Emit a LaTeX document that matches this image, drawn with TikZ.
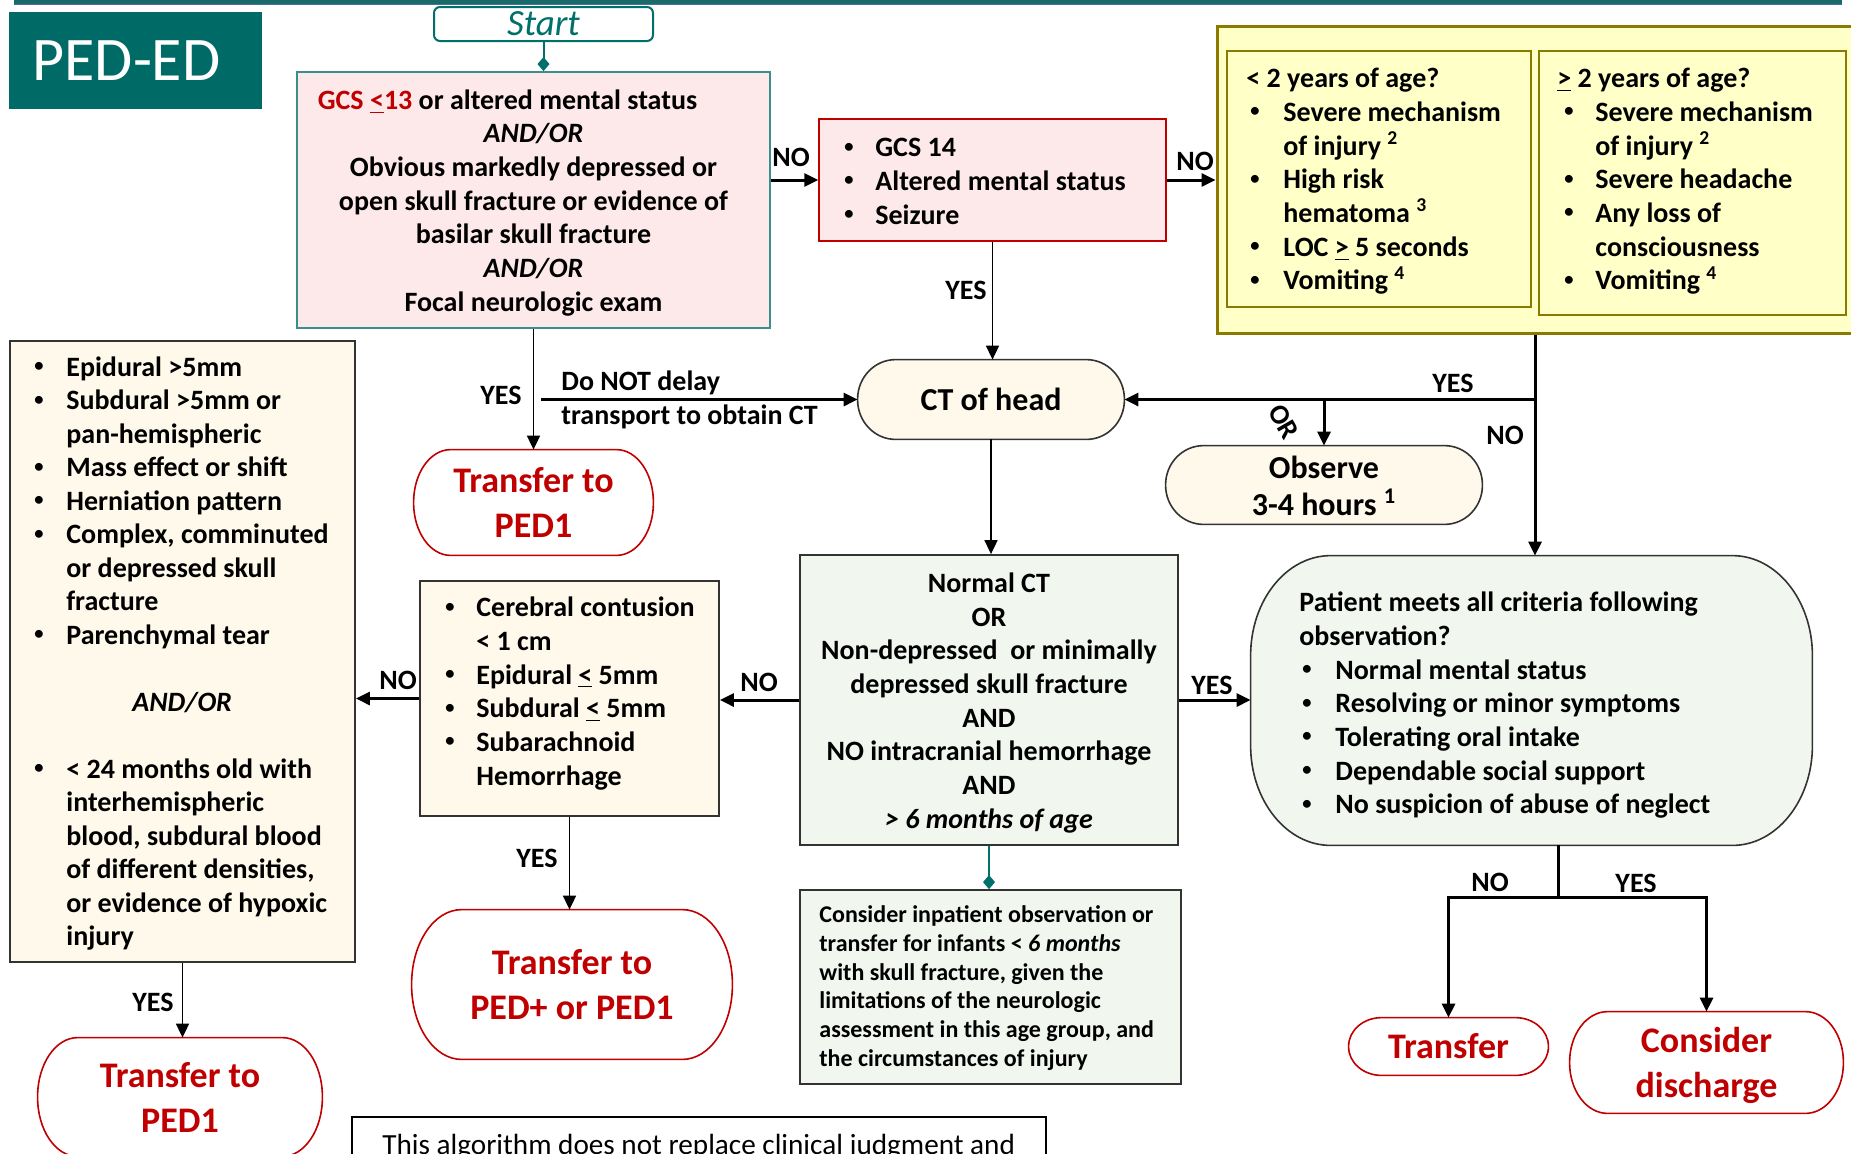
\documentclass[tikz,border=0pt]{standalone}
\usepackage{fontspec}
\usepackage{graphicx}
\setmainfont{Carlito}
\usetikzlibrary{arrows.meta,calc}
\pgfdeclarelayer{bg}
\pgfsetlayers{bg,main}
\definecolor{tealA}{HTML}{006B66}
\definecolor{tealB}{HTML}{00706B}
\definecolor{gcsB}{HTML}{3A8F8C}
\definecolor{pinkF}{HTML}{FDE9E9}
\definecolor{redB}{HTML}{C00000}
\definecolor{txtRed}{HTML}{C00000}
\definecolor{yelF}{HTML}{FFFFC8}
\definecolor{yelB}{HTML}{8C7A00}
\definecolor{creamF}{HTML}{FEF9EA}
\definecolor{greenF}{HTML}{F1F6EE}
\definecolor{darkB}{HTML}{333333}
\definecolor{barA}{HTML}{1B6A6A}
\definecolor{barB}{HTML}{4A6EA8}
\newcommand\bodyfont{\bfseries\fontsize{14}{16.85}\selectfont}
\newcommand\sbul{\raisebox{2.3pt}{\scalebox{0.66}{\textbullet}}}
\newcommand\BL[3]{\hspace*{#1}\makebox[#2][l]{\sbul}#3}
\newcommand\CL[2]{\hspace*{#1}#2}
\newcommand\supn[1]{\smash{\textsuperscript{#1}}}
\newcommand\tst{\rule{0pt}{\dimexpr0.7\baselineskip+3.5pt\relax}}
\newcommand\ovalbox[4]{%
  \path[#1] ($(#2.north west)+(#3,0pt)$) -- ($(#2.north east)+(-#3,0pt)$)
    arc[start angle=90,end angle=0,x radius=#3,y radius=#4]
    -- ($(#2.south east)+(0pt,#4)$)
    arc[start angle=0,end angle=-90,x radius=#3,y radius=#4]
    -- ($(#2.south west)+(#3,0pt)$)
    arc[start angle=270,end angle=180,x radius=#3,y radius=#4]
    -- ($(#2.north west)+(0pt,-#4)$)
    arc[start angle=180,end angle=90,x radius=#3,y radius=#4] -- cycle;}
\tikzset{
  box/.style={rectangle, inner sep=0pt, line width=0.9pt},
  gcsbox/.style={box, fill=pinkF, draw=gcsB, align=center, font=\bodyfont},
  pinkbox/.style={box, fill=pinkF, draw=redB, line width=0.7pt},
  ybox/.style={box, fill=yelF, draw=yelB, line width=1pt},
  creambox/.style={box, fill=creamF, draw=darkB},
  greenbox/.style={box, fill=greenF, draw=darkB, align=center, font=\bodyfont},
  ghost/.style={rectangle, inner sep=0pt, align=center},
  ovalcream/.style={fill=creamF, draw=darkB, line width=0.8pt},
  ovalgreen/.style={fill=greenF, draw=darkB, line width=0.8pt},
  ovalred/.style={fill=white, draw=redB, line width=0.8pt},
  redtitle/.style={ghost, text=txtRed, font=\bfseries\fontsize{18}{22.5}\selectfont},
  txt/.style={inner sep=0pt, align=left, anchor=north west, font=\bodyfont},
  lbl/.style={inner sep=0pt, anchor=base, font=\bodyfont},
  arr/.style={-{Triangle[length=7pt,width=6.5pt]}, line width=0.8pt},
  tarr/.style={-{Triangle[length=7pt,width=6.5pt]}, line width=1.5pt},
  tline/.style={line width=1.5pt},
  dline/.style={draw=tealB, line width=1pt, -{Diamond[length=7pt,width=6pt]}}
}
\begin{document}
\begin{tikzpicture}[x=0.5pt,y=-0.5pt]
\useasboundingbox (0,0) rectangle (1851,1153);
\clip (0,0) rectangle (1851,1153);
% top bar
\fill[barA] (14,0) rectangle (1842,3.5);
\fill[barB] (14,3.5) rectangle (1842,5);

% PED-ED
\node[box, fill=tealA, text=white, minimum width=126.5pt, minimum height=48.5pt,
      font=\fontsize{31}{37}\selectfont] (peded) at (135.5,60.5) {\hspace*{-9pt}PED-ED};
% Start
\node[box, draw=tealB, line width=1pt, rounded corners=3pt, fill=white, text=tealB,
      minimum width=109.5pt, minimum height=17pt,
      font=\itshape\fontsize{18.5}{20}\selectfont] (start) at (543.5,24) {Start};

% GCS box
\node[gcsbox, minimum width=236.5pt, minimum height=128pt] (gcs) at (533.5,200)
 {\tst{\color{txtRed}GCS \underline{<}13} or altered mental status\hspace*{26pt}\\
  \textit{AND/OR}\\
  Obvious markedly depressed or\\
  open skull fracture or evidence of\\
  basilar skull fracture\\
  \textit{AND/OR}\\
  Focal neurologic exam\strut};

% GCS 14 box
\node[pinkbox, minimum width=173.5pt, minimum height=61pt] (gcs14) at (992.5,180) {};
\node[txt] (gcs14t) at (844,132.6)
 {\strut\BL{0pt}{15.5pt}{GCS 14}\\
  \BL{0pt}{15.5pt}{Altered mental status}\\
  \BL{0pt}{15.5pt}{Seizure}};

% yellow group
\node[ybox, line width=1.5pt, minimum width=321.5pt, minimum height=153.5pt] (yellow) at (1538.5,179.5) {};
\node[ybox, minimum width=152pt, minimum height=128pt] (yl) at (1379,179) {};
\node[ybox, minimum width=153.5pt, minimum height=132pt] (yr) at (1692.5,183) {};
\node[txt] (ylt) at (1246,63.6)
 {\strut < 2 years of age?\\
  \BL{2pt}{16.5pt}{Severe mechanism}\\
  \CL{18.5pt}{of injury \supn{2}}\\
  \BL{2pt}{16.5pt}{High risk}\\
  \CL{18.5pt}{hematoma \supn{3}}\\
  \BL{2pt}{16.5pt}{LOC \underline{>} 5 seconds}\\
  \BL{2pt}{16.5pt}{Vomiting \supn{4}}};
\node[txt] (yrt) at (1557,63.6)
 {\strut\underline{>} 2 years of age?\\
  \BL{3.5pt}{15.5pt}{Severe mechanism}\\
  \CL{19pt}{of injury \supn{2}}\\
  \BL{3.5pt}{15.5pt}{Severe headache}\\
  \BL{3.5pt}{15.5pt}{Any loss of}\\
  \CL{19pt}{consciousness}\\
  \BL{3.5pt}{15.5pt}{Vomiting \supn{4}}};

% CT of head
\node[ghost, minimum width=133pt, minimum height=39.5pt,
      font=\bfseries\fontsize{16}{18.5}\selectfont] (ct) at (991,399.5) {CT of head};
% Observe
\node[ghost, minimum width=158pt, minimum height=39pt] (obs) at (1324,485) {};
\node[inner sep=0pt, anchor=north, align=center,
      font=\bfseries\fontsize{16}{18.6}\selectfont] (obst) at (1324,452)
 {\strut Observe\\3-4 hours \supn{1}};

% Transfer to PED1 (middle)
\node[redtitle, minimum width=119.5pt, minimum height=52.5pt] (ped1m) at (533.5,502.5)
 {\tst Transfer to\\PED1\strut};

% Normal CT
\node[greenbox, minimum width=189pt, minimum height=145pt] (normal) at (989,700)
 {\tst Normal CT\\
  OR\\
  Non-depressed~ or minimally\\
  depressed skull fracture\\
  AND\\
  NO intracranial hemorrhage\\
  AND\\
  \textit{> 6 months of age}\strut};

% Patient box
\node[ghost, minimum width=280.5pt, minimum height=144.5pt] (patient) at (1531.5,700.5) {};
\node[txt] (patientt) at (1299,587.6)
 {\strut Patient meets all criteria following\\
  observation?\\
  \BL{1.5pt}{16.5pt}{Normal mental status}\\
  \BL{1.5pt}{16.5pt}{Resolving or minor symptoms}\\
  \BL{1.5pt}{16.5pt}{Tolerating oral intake}\\
  \BL{1.5pt}{16.5pt}{Dependable social support}\\
  \BL{1.5pt}{16.5pt}{No suspicion of abuse of neglect}};

% middle box
\node[creambox, minimum width=149.5pt, minimum height=117.5pt] (middle) at (569.5,698.5) {};
\node[txt] (middlet) at (445,592.6)
 {\strut\BL{0pt}{15.5pt}{Cerebral contusion}\\
  \CL{15.5pt}{< 1 cm}\\
  \BL{0pt}{15.5pt}{Epidural \underline{<} 5mm}\\
  \BL{0pt}{15.5pt}{Subdural \underline{<} 5mm}\\
  \BL{0pt}{15.5pt}{Subarachnoid}\\
  \CL{15.5pt}{Hemorrhage}};

% left box
\node[creambox, minimum width=172.5pt, minimum height=310.5pt] (left) at (182.5,651.5) {};
\node[txt, font=\bfseries\fontsize{14}{16.75}\selectfont] (leftt) at (34,352.6)
 {\strut\BL{0pt}{16pt}{Epidural >5mm}\\
  \BL{0pt}{16pt}{Subdural >5mm or}\\
  \CL{16pt}{pan-hemispheric}\\
  \BL{0pt}{16pt}{Mass effect or shift}\\
  \BL{0pt}{16pt}{Herniation pattern}\\
  \BL{0pt}{16pt}{Complex, comminuted}\\
  \CL{16pt}{or depressed skull}\\
  \CL{16pt}{fracture}\\
  \BL{0pt}{16pt}{Parenchymal tear}\\
  \mbox{}\\
  \CL{49pt}{\textit{AND/OR}}\\
  \mbox{}\\
  \BL{0pt}{16pt}{< 24 months old with}\\
  \CL{16pt}{interhemispheric}\\
  \CL{16pt}{blood, subdural blood}\\
  \CL{16pt}{of different densities,}\\
  \CL{16pt}{or evidence of hypoxic}\\
  \CL{16pt}{injury}};

% consider inpatient
\node[creambox, fill=greenF, minimum width=190.5pt, minimum height=97pt] (consider) at (990.5,987) {};
\node[txt, font=\bfseries\fontsize{12}{14.4}\selectfont] (considert) at (819,902)
 {\strut Consider inpatient observation or\\
  transfer for infants < \textit{6 months}\\
  with skull fracture, given the\\
  limitations of the neurologic\\
  assessment in this age group, and\\
  the circumstances of injury};

% red terminators
\node[redtitle, minimum width=160pt, minimum height=74.5pt] (pedplus) at (572,984.5)
 {\tst Transfer to\\PED+ or PED1\strut};
\node[redtitle, minimum width=142pt, minimum height=59pt] (ped1b) at (180,1097)
 {\tst Transfer to\\PED1\strut};
\node[redtitle, minimum width=99.5pt, minimum height=28.5pt] (transfer) at (1448.5,1046.5)
 {Transfer};
\node[redtitle, minimum width=136.5pt, minimum height=50.5pt] (discharge) at (1706.5,1062.5)
 {\tst Consider\\discharge\strut};

% disclaimer
\node[box, draw=black, line width=0.8pt, fill=white, minimum width=347pt, minimum height=26.5pt] (disc) at (699,1143.5) {};
\node[inner sep=0pt, anchor=base west, font=\fontsize{14.6}{17}\selectfont] (disct) at (382,1154)
 {This algorithm does not replace clinical judgment and};

% oval backgrounds
\begin{pgfonlayer}{bg}
\ovalbox{ovalcream}{ct}{19pt}{19.75pt}
\ovalbox{ovalcream}{obs}{19pt}{19.5pt}
\ovalbox{ovalgreen}{patient}{40pt}{50pt}
\ovalbox{ovalred}{ped1m}{18.5pt}{26.25pt}
\ovalbox{ovalred}{pedplus}{25pt}{37.25pt}
\ovalbox{ovalred}{ped1b}{20pt}{29.5pt}
\ovalbox{ovalred}{transfer}{16.5pt}{14.25pt}
\ovalbox{ovalred}{discharge}{19pt}{25.25pt}
\end{pgfonlayer}

% connectors
\draw[dline] (start.south) -- (start.south |- gcs.north);
\draw[tarr] (gcs.east |- gcs14.west) -- (gcs14.west);
\node[lbl] (lno1) at (791,166) {NO};
\draw[tarr] (gcs14.east) -- (gcs14.east -| yellow.west);
\node[lbl] (lno2) at (1195,170) {NO};
\draw[arr] (gcs14.south) -- (gcs14.south |- ct.north);
\node[lbl] (lyes1) at (966,299) {YES};
\draw[arr] (gcs.south) -- (ped1m.north);
\node[lbl] (lyes2) at (501,404) {YES};
\coordinate (dl) at (541,399.5);
\draw[tarr] (dl) -- (ct.west);
\node[lbl, anchor=base west] (dnd1) at (561,390) {Do NOT delay};
\node[lbl, anchor=base west] (dnd2) at (561,424) {transport to obtain CT};
\coordinate (yb) at (1535,399.5);
\draw[tline] (yb |- yellow.south) -- (yb);
\draw[tarr] (yb) -- (ct.east);
\draw[tarr] (yb) -- (yb |- patient.north);
\draw[tarr] (obs.north |- yb) -- (obs.north);
\node[lbl] (lyes3) at (1453,392) {YES};
\node[lbl] (lno3) at (1505,444) {NO};
\node[inner sep=0pt, rotate=-60, font=\bodyfont] (lor) at (1284,422) {OR};
\draw[arr] (ct.south) -- (ct.south |- normal.north);
\draw[tarr] (normal.west) -- (normal.west -| middle.east);
\node[lbl] (lno4) at (759,691) {NO};
\draw[tarr] (middle.west) -- (middle.west -| left.east);
\node[lbl] (lno5) at (398,689) {NO};
\draw[tarr] (normal.east) -- (normal.east -| patient.west);
\node[lbl] (lyes4) at (1212,694) {YES};
\draw[dline] (normal.south) -- (normal.south |- consider.north);
\draw[arr] (middle.south) -- (middle.south |- pedplus.north);
\node[lbl] (lyes5) at (537,867) {YES};
\draw[arr] (left.south) -- (left.south |- ped1b.north);
\node[lbl] (lyes6) at (153,1011) {YES};
\coordinate (pb) at (1558,897);
\draw[tline] (pb |- patient.south) -- (pb);
\draw[tarr] (pb) -| (transfer.north);
\draw[tarr] (pb) -| (discharge.north);
\node[lbl] (lno6) at (1490,891) {NO};
\node[lbl] (lyes7) at (1636,892) {YES};
\end{tikzpicture}
\end{document}
